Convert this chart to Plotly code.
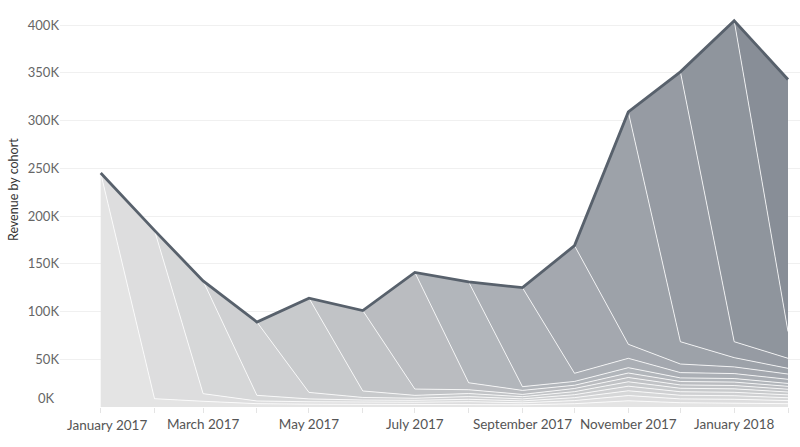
import plotly.graph_objects as go
import numpy as np

# Months on the x axis (first day of each month)
months = ["2017-01-01", "2017-02-01", "2017-03-01", "2017-04-01", "2017-05-01",
          "2017-06-01", "2017-07-01", "2017-08-01", "2017-09-01", "2017-10-01",
          "2017-11-01", "2017-12-01", "2018-01-01", "2018-02-01"]

# Revenue (K) of each acquisition cohort, starting at its first month
cohort_2017_01 = [245.0, 8.7, 6.0, 3.5, 3.0, 2.8, 2.6, 3.0, 2.3, 3.5, 6.5, 4.5, 4.2, 3.5]
cohort_2017_02 = [176.3, 8.0, 2.8, 2.5, 2.4, 2.4, 2.6, 2.1, 3.2, 5.5, 4.0, 3.9, 3.2]
cohort_2017_03 = [118.0, 5.9, 3.0, 2.1, 2.0, 2.5, 2.0, 3.1, 5.0, 3.8, 3.7, 3.0]
cohort_2017_04 = [76.8, 6.8, 2.7, 2.2, 2.8, 2.1, 3.1, 4.8, 3.7, 3.6, 3.0]
cohort_2017_05 = [98.7, 6.8, 3.0, 3.2, 2.3, 3.2, 4.6, 3.6, 3.6, 3.0]
cohort_2017_06 = [84.2, 6.6, 4.0, 2.4, 3.3, 4.5, 3.5, 3.5, 2.9]
cohort_2017_07 = [122.2, 7.3, 4.2, 3.4, 4.7, 3.6, 3.6, 3.0]
cohort_2017_08 = [105.6, 3.9, 4.0, 5.6, 3.8, 3.7, 3.1]
cohort_2017_09 = [103.7, 8.5, 9.8, 5.5, 5.2, 4.3]
cohort_2017_10 = [133.7, 14.7, 9.0, 7.0, 5.5]
cohort_2017_11 = [243.3, 23.4, 9.7, 6.0]
cohort_2017_12 = [282.6, 16.7, 10.5]
cohort_2018_01 = [336.1, 28.0]
cohort_2018_02 = [264.0]

cohorts = [cohort_2017_01, cohort_2017_02, cohort_2017_03, cohort_2017_04,
           cohort_2017_05, cohort_2017_06, cohort_2017_07, cohort_2017_08,
           cohort_2017_09, cohort_2017_10, cohort_2017_11, cohort_2017_12,
           cohort_2018_01, cohort_2018_02]

# x tick labels (every second month)
tick_months = ["2017-01-01", "2017-03-01", "2017-05-01", "2017-07-01",
               "2017-09-01", "2017-11-01", "2018-01-01"]
tick_labels = ["January 2017", "March 2017", "May 2017", "July 2017",
               "September 2017", "November 2017", "January 2018"]
y_ticks = [0, 50, 100, 150, 200, 250, 300, 350, 400]

n = len(months)
c_light = np.array([228, 228, 228])
c_dark = np.array([136, 142, 151])

fig = go.Figure()
series = []
for i, vals in enumerate(cohorts):
    full = [0.0] * (n - len(vals)) + list(vals)
    series.append(full)
    t = i / (len(cohorts) - 1)
    col = (c_light + (c_dark - c_light) * t).round().astype(int)
    rgb = f"rgb({col[0]},{col[1]},{col[2]})"
    fig.add_trace(go.Scatter(
        x=months, y=full, mode="lines", stackgroup="cohorts",
        line=dict(color="rgba(255,255,255,0.8)", width=1),
        fillcolor=rgb, showlegend=False, hoverinfo="skip"))

total = np.array(series).sum(axis=0)
fig.add_trace(go.Scatter(
    x=months, y=total, mode="lines",
    line=dict(color="#58616c", width=2.8), showlegend=False, hoverinfo="skip"))

# tick marks every month, labels every second month (first one drawn as annotation,
# nudged right as in the original)
tickvals = months
ticktext = []
for m in months:
    if m in tick_months and m != tick_months[0]:
        ticktext.append(tick_labels[tick_months.index(m)])
    else:
        ticktext.append("")

fig.update_layout(
    width=800, height=447,
    margin=dict(l=60, r=0, t=5, b=40),
    paper_bgcolor="white", plot_bgcolor="white",
    font=dict(family="Lato", size=13, color="#555555"),
    xaxis=dict(
        range=["2016-12-08 13:00", "2018-02-07 22:00"],
        tickvals=tickvals, ticktext=ticktext,
        ticks="outside", ticklen=5, tickcolor="#e4e4e4",
        showgrid=False, zeroline=False, showline=False,
        tickfont=dict(size=13.5, color="#555555"),
    ),
    yaxis=dict(
        range=[0, 421],
        tickvals=y_ticks,
        ticktext=["" if v == 0 else f"{v}K" for v in y_ticks],
        showgrid=True, gridcolor="#f0f0f0", gridwidth=1,
        zeroline=False, showline=False, ticks="",
        tickfont=dict(size=13, color="#666666"),
    ),
    annotations=[
        dict(text="Revenue by cohort", x=-0.062, y=0.54, xref="paper", yref="paper",
             textangle=-90, showarrow=False, font=dict(size=12.5, color="#333333"),
             xanchor="center", yanchor="middle"),
        dict(text="0K", x=0, y=0, xref="paper", yref="y", xanchor="right",
             yanchor="middle", xshift=-3, yshift=9, showarrow=False,
             font=dict(size=13, color="#666666")),
        dict(text=tick_labels[0], x=tick_months[0], y=0, xref="x", yref="paper",
             xanchor="center", yanchor="middle", xshift=6, yshift=-18,
             showarrow=False, font=dict(size=13.5, color="#555555")),
    ],
)

fig.write_html("out.html", config={"displayModeBar": False},
               post_script="document.body.style.margin='0px';")
